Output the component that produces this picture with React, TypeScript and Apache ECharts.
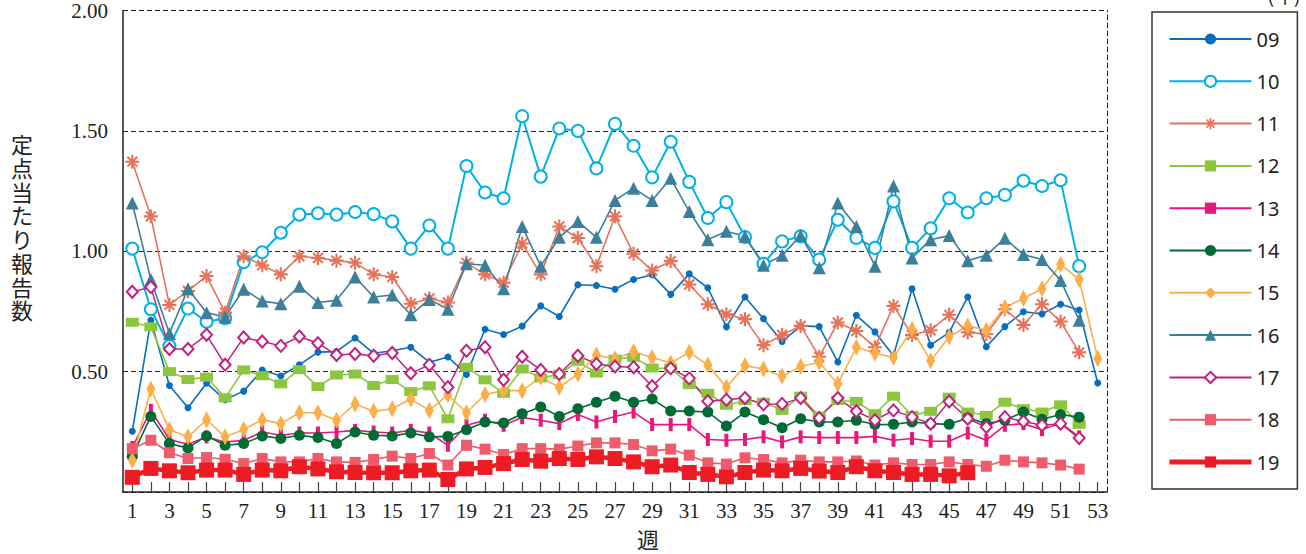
import React, { useEffect, useRef } from 'react';
import * as echarts from 'echarts';

const weeks = ['1','2','3','4','5','6','7','8','9','10','11','12','13','14','15','16','17','18','19','20','21','22','23','24','25','26','27','28','29','30','31','32','33','34','35','36','37','38','39','40','41','42','43','44','45','46','47','48','49','50','51','52','53'];

const seriesNames = ['09','10','11','12','13','14','15','16','17','18','19'];

const s09 = [0.252,0.713,0.442,0.350,0.452,0.383,0.419,0.507,0.482,0.528,0.581,0.583,0.640,0.576,0.587,0.601,0.539,0.561,0.488,0.676,0.654,0.689,0.773,0.729,0.861,0.858,0.842,0.883,0.902,0.821,0.906,0.848,0.686,0.810,0.720,0.625,0.690,0.687,0.540,0.734,0.665,0.566,0.844,0.610,0.663,0.810,0.603,0.687,0.749,0.740,0.780,0.756,0.453];
const s10 = [1.011,0.759,0.606,0.762,0.707,0.722,0.955,0.996,1.077,1.152,1.158,1.152,1.163,1.154,1.124,1.011,1.107,1.011,1.354,1.244,1.220,1.561,1.310,1.510,1.500,1.344,1.529,1.438,1.307,1.455,1.288,1.138,1.204,1.059,0.948,1.041,1.062,0.965,1.131,1.055,1.014,1.207,1.014,1.095,1.220,1.161,1.220,1.234,1.293,1.271,1.295,0.938];
const s11 = [1.372,1.145,0.777,0.835,0.897,0.745,0.979,0.942,0.904,0.979,0.972,0.961,0.952,0.904,0.893,0.782,0.804,0.787,0.952,0.904,0.869,1.032,0.904,1.103,1.055,0.938,1.145,0.990,0.920,0.959,0.862,0.780,0.738,0.718,0.610,0.652,0.690,0.562,0.704,0.669,0.601,0.773,0.652,0.672,0.736,0.663,0.656,0.759,0.694,0.780,0.708,0.580];
const s12 = [0.705,0.686,0.500,0.467,0.477,0.391,0.507,0.483,0.449,0.508,0.438,0.486,0.490,0.442,0.467,0.417,0.441,0.304,0.518,0.466,0.410,0.511,0.474,0.488,0.543,0.494,0.552,0.559,0.515,0.514,0.446,0.410,0.360,0.380,0.373,0.339,0.398,0.315,0.380,0.376,0.325,0.398,0.318,0.335,0.394,0.332,0.318,0.373,0.346,0.332,0.362,0.281];
const s13 = [0.185,0.339,0.218,0.198,0.229,0.207,0.215,0.249,0.236,0.245,0.245,0.249,0.256,0.249,0.245,0.256,0.245,0.194,0.277,0.298,0.277,0.309,0.298,0.284,0.322,0.291,0.314,0.332,0.280,0.280,0.280,0.218,0.215,0.218,0.229,0.208,0.229,0.226,0.226,0.226,0.231,0.215,0.222,0.211,0.211,0.245,0.215,0.277,0.284,0.259,0.287,0.229];
const s14 = [0.149,0.314,0.201,0.183,0.233,0.194,0.201,0.233,0.222,0.236,0.226,0.201,0.249,0.236,0.233,0.245,0.229,0.231,0.259,0.291,0.287,0.325,0.353,0.314,0.346,0.373,0.398,0.373,0.386,0.336,0.336,0.332,0.274,0.332,0.300,0.267,0.304,0.291,0.291,0.298,0.280,0.281,0.291,0.284,0.281,0.307,0.284,0.298,0.332,0.302,0.322,0.311];
const s15 = [0.132,0.428,0.259,0.229,0.300,0.229,0.260,0.300,0.284,0.329,0.329,0.298,0.366,0.335,0.346,0.386,0.339,0.404,0.329,0.405,0.421,0.421,0.477,0.435,0.490,0.569,0.552,0.583,0.559,0.536,0.580,0.528,0.435,0.525,0.511,0.481,0.521,0.539,0.449,0.601,0.576,0.559,0.676,0.545,0.645,0.690,0.672,0.766,0.804,0.844,0.945,0.883,0.555];
const s16 = [1.200,0.883,0.658,0.844,0.745,0.727,0.842,0.793,0.782,0.855,0.787,0.796,0.893,0.810,0.818,0.736,0.800,0.759,0.948,0.942,0.844,1.103,0.938,1.058,1.124,1.058,1.211,1.262,1.211,1.303,1.165,1.048,1.083,1.062,0.942,0.983,1.065,0.931,1.200,1.103,0.938,1.271,0.972,1.048,1.065,0.961,0.983,1.054,0.986,0.966,0.879,0.713];
const s17 = [0.832,0.851,0.594,0.594,0.653,0.529,0.642,0.625,0.607,0.646,0.618,0.569,0.573,0.566,0.577,0.493,0.528,0.435,0.587,0.601,0.466,0.562,0.507,0.490,0.566,0.532,0.521,0.518,0.439,0.514,0.472,0.377,0.383,0.390,0.364,0.366,0.390,0.307,0.390,0.335,0.298,0.339,0.311,0.284,0.376,0.304,0.270,0.311,0.293,0.277,0.284,0.224];
const s18 = [0.180,0.215,0.163,0.139,0.143,0.136,0.118,0.139,0.125,0.125,0.139,0.125,0.123,0.135,0.149,0.139,0.160,0.112,0.194,0.178,0.156,0.180,0.180,0.178,0.191,0.204,0.204,0.197,0.171,0.178,0.153,0.121,0.116,0.142,0.135,0.121,0.132,0.125,0.125,0.129,0.112,0.121,0.114,0.114,0.125,0.114,0.107,0.132,0.125,0.121,0.112,0.095];
const s19 = [0.061,0.098,0.088,0.080,0.091,0.091,0.073,0.091,0.088,0.105,0.096,0.084,0.081,0.080,0.080,0.088,0.091,0.052,0.096,0.102,0.118,0.135,0.128,0.139,0.135,0.146,0.139,0.125,0.105,0.112,0.081,0.073,0.063,0.081,0.091,0.088,0.098,0.087,0.081,0.105,0.088,0.081,0.073,0.073,0.067,0.080];

const yAxisTitleChars = ['定', '点', '当', 'た', 'り', '報', '告', '数'];
const xAxisTitle = '週';
const unitText = '(年)';

const ASTERISK =
  'path://M0,8.5L20,8.5L20,11.5L0,11.5Z M8.5,0L11.5,0L11.5,20L8.5,20Z M1.9,4.0L4.0,1.9L18.1,16.0L16.0,18.1Z M16.0,1.9L18.1,4.0L4.0,18.1L1.9,16.0Z';

const SERIF = '"Liberation Serif", "DejaVu Serif", serif';
const SANS = '"Noto Sans", "Open Sans", sans-serif';
const CJK = '"Noto Sans CJK JP", sans-serif';

export default function App() {
  const ref = useRef<HTMLDivElement>(null);

  useEffect(() => {
    if (!ref.current) return;
    const chart = echarts.init(ref.current, undefined, { renderer: 'svg' });

    const mk = (
      name: string,
      data: number[],
      color: string,
      symbol: string,
      symbolSize: any,
      lineWidth: number,
      extra: any = {}
    ) => ({
      name,
      type: 'line',
      data,
      symbol,
      symbolSize,
      showSymbol: true,
      showAllSymbol: true,
      color,
      lineStyle: { color, width: lineWidth },
      itemStyle: { color, ...(extra.itemStyle || {}) },
      z: extra.z ?? 2,
      emphasis: { disabled: true },
    });

    const titleGraphics = yAxisTitleChars.map((ch, i) => ({
      type: 'text',
      x: 22,
      y: 143 + i * 23.75,
      style: {
        text: ch,
        fontSize: 22,
        lineHeight: 23,
        fontFamily: CJK,
        fill: '#222',
        align: 'center',
        verticalAlign: 'middle',
      },
    }));

    const legendData = seriesNames.map((n) =>
      n === '19' ? { name: n, lineStyle: { width: 5 } } : { name: n }
    );

    const option: any = {
      animation: false,
      backgroundColor: '#ffffff',
      grid: { left: 123, right: 199, top: 8, bottom: 62, containLabel: false },
      xAxis: {
        type: 'category',
        data: weeks,
        boundaryGap: true,
        axisLine: { show: true, lineStyle: { color: '#222', width: 1.5 } },
        axisTick: {
          show: true,
          inside: true,
          length: 10,
          alignWithLabel: true,
          interval: 0,
          lineStyle: { color: '#444', width: 1.2 },
        },
        axisLabel: {
          interval: 1,
          margin: 8,
          color: '#222',
          fontFamily: SERIF,
          fontSize: 21,
        },
        splitLine: { show: false },
      },
      yAxis: [
        {
          type: 'value',
          min: 0,
          max: 2,
          interval: 0.5,
          axisLine: { show: true, lineStyle: { color: '#222', width: 1.5 } },
          axisTick: { show: false },
          axisLabel: {
            margin: 15,
            color: '#222',
            fontFamily: SERIF,
            fontSize: 21,
            formatter: (v: number) => (v === 0 ? '' : v.toFixed(2)),
          },
          splitLine: {
            show: true,
            lineStyle: { color: '#222', width: 1, type: [5, 3] },
          },
        },
        {
          type: 'value',
          position: 'right',
          min: 0,
          max: 2,
          interval: 0.5,
          axisLine: { show: true, lineStyle: { color: '#222', width: 1, type: [5, 3] } },
          axisTick: { show: false },
          axisLabel: { show: false },
          splitLine: { show: false },
        },
      ],
      legend: {
        orient: 'vertical',
        left: 1152,
        top: 12,
        padding: [17, 18, 17, 15],
        borderColor: '#333',
        borderWidth: 1.5,
        itemWidth: 82,
        itemHeight: 14,
        itemGap: 22.3,
        data: legendData,
        textStyle: { fontSize: 20, fontFamily: SANS, color: '#222' },
        selectedMode: false,
      },
      graphic: [
        ...titleGraphics,
        {
          type: 'text',
          x: 648,
          y: 538,
          style: {
            text: xAxisTitle,
            fontSize: 22,
            lineHeight: 22,
            fontFamily: CJK,
            fill: '#222',
            align: 'center',
            verticalAlign: 'middle',
          },
        },
        {
          type: 'text',
          x: 1284,
          y: -6,
          style: {
            text: unitText,
            fontSize: 20,
            fontFamily: CJK,
            fill: '#222',
            align: 'center',
            verticalAlign: 'middle',
          },
        },
      ],
      series: [
        mk('09', s09, '#0A6EBD', 'circle', 7, 1.6),
        mk('10', s10, '#00B2E3', 'emptyCircle', 12, 2, { itemStyle: { borderWidth: 3 } }),
        mk('11', s11, '#E5735A', ASTERISK, 14, 1.6),
        mk('12', s12, '#8CC63F', 'rect', [13, 9], 1.6),
        mk('13', s13, '#E8177A', 'rect', [4, 13], 1.6),
        mk('14', s14, '#006B35', 'circle', 11, 1.6),
        mk('15', s15, '#FCAF48', 'diamond', [9, 17], 1.6),
        mk('16', s16, '#3C7F9A', 'triangle', 13, 1.6),
        mk('17', s17, '#C2207F', 'emptyDiamond', [11, 12], 1.5, { itemStyle: { borderWidth: 1.6 } }),
        mk('18', s18, '#EF5B6B', 'rect', 11, 1.6),
        mk('19', s19, '#ED1C24', 'rect', 15, 4.5, { z: 3 }),
      ],
    };

    chart.setOption(option);
    return () => {
      chart.dispose();
    };
  }, []);

  return (
    <div
      ref={ref}
      style={{ position: 'fixed', left: 0, top: 0, width: 1306, height: 554 }}
    />
  );
}
